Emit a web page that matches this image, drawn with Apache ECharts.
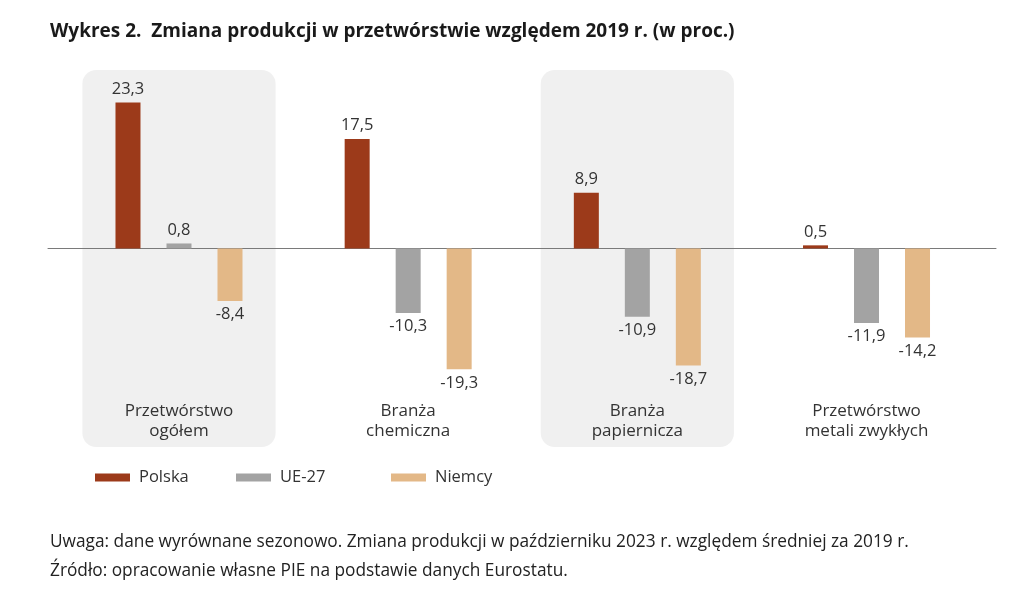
<!DOCTYPE html>
<html>
<head>
<meta charset="utf-8">
<script src="https://cdn.jsdelivr.net/npm/echarts@6/dist/echarts.min.js"></script>
<style>
html,body{margin:0;padding:0;background:#fff;}
#c{width:1024px;height:600px;}
</style>
</head>
<body>
<div id="c"></div>
<script>
const categories = ['Przetwórstwo\nogółem', 'Branża\nchemiczna', 'Branża\npapiernicza', 'Przetwórstwo\nmetali zwykłych'];
const seriesNames = ['Polska', 'UE-27', 'Niemcy'];
const polska = [23.3, 17.5, 8.9, 0.5];
const ue27 = [0.8, -10.3, -10.9, -11.9];
const niemcy = [-8.4, -19.3, -18.7, -14.2];
const highlighted = [0, 2];
const titleText = 'Wykres 2.  Zmiana produkcji w przetwórstwie względem 2019 r. (w proc.)';
const noteText = 'Uwaga: dane wyrównane sezonowo. Zmiana produkcji w październiku 2023 r. względem średniej za 2019 r.';
const sourceText = 'Źródło: opracowanie własne PIE na podstawie danych Eurostatu.';

const colors = ['#9c3a1a', '#a3a3a3', '#e3b887'];
const font = 'Open Sans';
const yMin = -31.7, yMax = 28.5;

function fmt(v){ return v.toFixed(1).replace('.', ','); }

function barSeries(name, values, color){
  return {
    name: name, type: 'bar', xAxisIndex: 0, yAxisIndex: 0,
    barWidth: 25, barGap: '104%', z: 3,
    itemStyle: {color: color},
    data: values.map(v => ({
      value: v,
      label: {position: v >= 0 ? 'top' : 'bottom'}
    })),
    label: {
      show: true, distance: 5, fontFamily: font, fontSize: 16.5, color: '#333',
      formatter: p => fmt(p.value)
    }
  };
}

const chart = echarts.init(document.getElementById('c'), null, {renderer: 'canvas'});
chart.setOption({
  backgroundColor: '#fff',
  animation: false,
  title: [
    {text: titleText, left: 45, top: 17, textStyle: {fontFamily: font, fontWeight: 'bold', fontSize: 19, color: '#1a1a1a'}},
    {text: noteText, left: 45, top: 529, textStyle: {fontFamily: font, fontWeight: 'normal', fontSize: 17.3, color: '#222'}},
    {text: sourceText, left: 45, top: 558, textStyle: {fontFamily: font, fontWeight: 'normal', fontSize: 17.3, color: '#222'}}
  ],
  legend: seriesNames.map((n, i) => ({
    data: [n], left: [90, 231, 386][i], top: 464,
    itemWidth: 35, itemHeight: 8, itemGap: 0,
    icon: 'rect',
    textStyle: {fontFamily: font, fontSize: 16.5, color: '#333', padding: [0, 0, 0, 4]}
  })),
  grid: [
    {left: 64.4, right: 42.9, top: 70, height: 377},
    {left: 48, right: 28, top: 70, height: 377}
  ],
  xAxis: [
    {
      type: 'category', gridIndex: 0, data: categories, position: 'bottom',
      axisLine: {show: false}, axisTick: {show: false},
      axisLabel: {inside: true, margin: 6, fontFamily: font, fontSize: 17, color: '#333', lineHeight: 20}
    },
    {
      type: 'value', gridIndex: 1, min: 0, max: 1,
      axisLine: {show: true, onZero: true, lineStyle: {color: '#7a7a7a', width: 1}},
      axisTick: {show: false}, axisLabel: {show: false}, splitLine: {show: false}
    }
  ],
  yAxis: [
    {type: 'value', gridIndex: 0, min: yMin, max: yMax, show: false, splitLine: {show: false}},
    {type: 'value', gridIndex: 1, min: yMin, max: yMax, show: false, splitLine: {show: false}}
  ],
  series: [
    {
      type: 'custom', xAxisIndex: 0, yAxisIndex: 0, z: 0, silent: true,
      data: highlighted.map(i => [i]),
      renderItem: function(params, api){
        const cx = api.coord([api.value(0), 0])[0];
        const w = api.size([1, 0])[0] * 0.843;
        const cs = params.coordSys;
        return {type: 'rect', shape: {x: cx - w / 2, y: cs.y, width: w, height: cs.height, r: 14}, style: {fill: '#f0f0f0'}};
      }
    },
    barSeries(seriesNames[0], polska, colors[0]),
    barSeries(seriesNames[1], ue27, colors[1]),
    barSeries(seriesNames[2], niemcy, colors[2]),
    {
      type: 'line', xAxisIndex: 1, yAxisIndex: 1, data: [], silent: true
    }
  ]
});
</script>
</body>
</html>
